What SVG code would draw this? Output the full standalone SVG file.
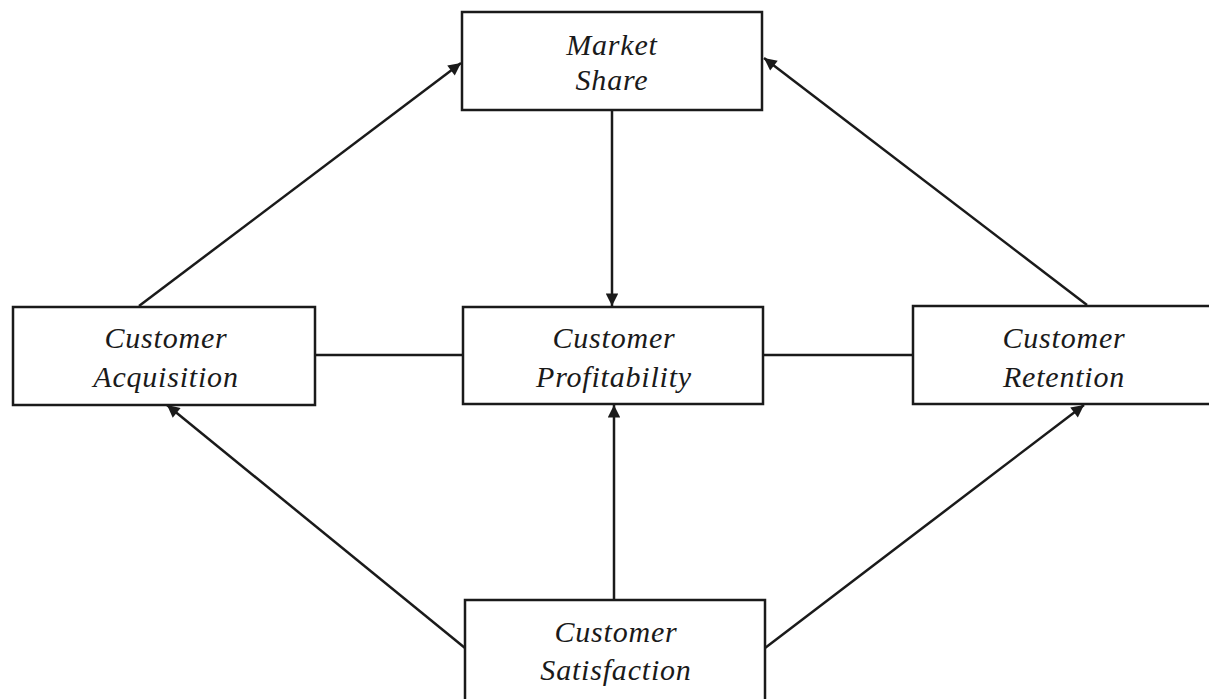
<svg xmlns="http://www.w3.org/2000/svg" width="1209" height="699" viewBox="0 0 1209 699">
<style>
.box{fill:#fff;stroke:#1a1a1a;stroke-width:2.5}
.lbl{font-family:"Liberation Serif","Times New Roman",serif;font-style:italic;font-size:30px;fill:#1a1a1a;text-anchor:middle;letter-spacing:0.8px}
.c{stroke:#1a1a1a;stroke-width:2.5;fill:none}
</style>
<defs>
<marker id="ah" viewBox="0 0 10 10" refX="10" refY="5" markerWidth="6" markerHeight="5" markerUnits="strokeWidth" orient="auto">
<path d="M0,0 L10,5 L0,10 z" fill="#1a1a1a"/>
</marker>
</defs>
<rect width="1209" height="699" fill="#fff"/>
<g id="connectors">
<line class="c" x1="139" y1="306" x2="461" y2="63" marker-end="url(#ah)"/>
<line class="c" x1="1087" y1="305" x2="764" y2="58" marker-end="url(#ah)"/>
<line class="c" x1="612" y1="110" x2="612" y2="306" marker-end="url(#ah)"/>
<line class="c" x1="315" y1="355" x2="463" y2="355"/>
<line class="c" x1="763" y1="355" x2="913" y2="355"/>
<line class="c" x1="465" y1="648" x2="167" y2="405" marker-end="url(#ah)"/>
<line class="c" x1="614" y1="600" x2="614" y2="405" marker-end="url(#ah)"/>
<line class="c" x1="765" y1="648" x2="1084" y2="405" marker-end="url(#ah)"/>
</g>
<g id="market-share">
<rect class="box" x="462" y="12" width="300" height="98"/>
<text class="lbl" x="612" y="55">Market</text>
<text class="lbl" x="612" y="90">Share</text>
</g>
<g id="customer-acquisition">
<rect class="box" x="13" y="307" width="302" height="98"/>
<text class="lbl" x="166" y="348">Customer</text>
<text class="lbl" x="166" y="387">Acquisition</text>
</g>
<g id="customer-profitability">
<rect class="box" x="463" y="307" width="300" height="97"/>
<text class="lbl" x="614" y="348">Customer</text>
<text class="lbl" x="614" y="387">Profitability</text>
</g>
<g id="customer-retention">
<rect class="box" x="913" y="306" width="300" height="98"/>
<text class="lbl" x="1064" y="348">Customer</text>
<text class="lbl" x="1064" y="387">Retention</text>
</g>
<g id="customer-satisfaction">
<rect class="box" x="465" y="600" width="300" height="110"/>
<text class="lbl" x="616" y="642">Customer</text>
<text class="lbl" x="616" y="680">Satisfaction</text>
</g>
</svg>
